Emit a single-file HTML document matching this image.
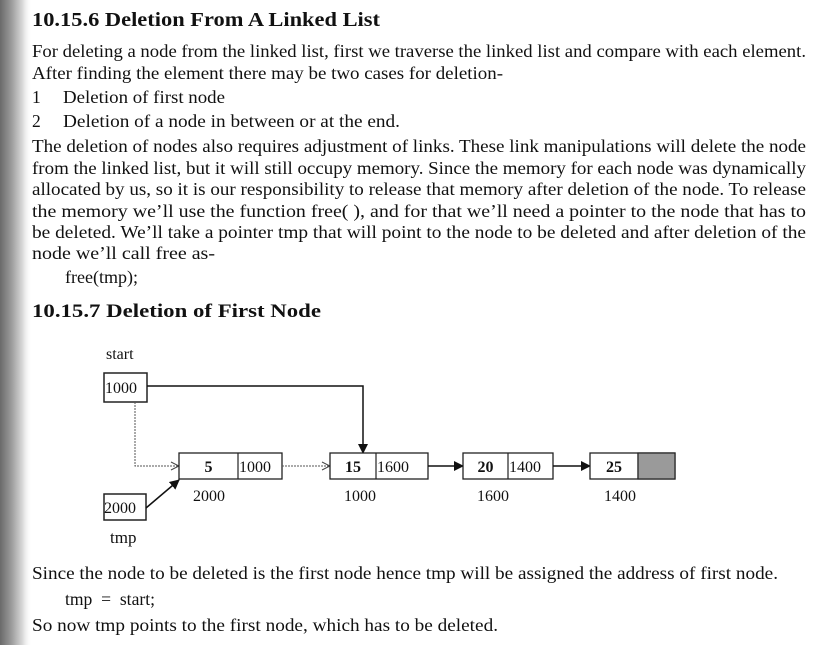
<!DOCTYPE html>
<html><head><meta charset="utf-8"><style>
html,body{margin:0;padding:0;background:#fff;}
svg{display:block;}
text{font-family:"Liberation Serif",serif;fill:#111;}
</style></head><body>
<svg id="pg" width="821" height="645" viewBox="0 0 821 645">
<defs>
<linearGradient id="shadow" x1="0" x2="1" y1="0" y2="0">
<stop offset="0" stop-color="#6a6a6a"/><stop offset="0.35" stop-color="#9a9a9a"/><stop offset="0.7" stop-color="#d8d8d8"/><stop offset="1" stop-color="#fff" stop-opacity="0"/>
</linearGradient>
<marker id="ah" markerWidth="10" markerHeight="10" refX="9" refY="5" orient="auto" markerUnits="userSpaceOnUse"><path d="M0,0 L10,5 L0,10 Z" fill="#111"/></marker>
<marker id="oa" markerWidth="10" markerHeight="10" refX="9" refY="5" orient="auto" markerUnits="userSpaceOnUse"><path d="M1,1 L9,5 L1,9" fill="none" stroke="#444" stroke-width="1"/></marker>
</defs>
<rect x="0" y="0" width="32" height="645" fill="url(#shadow)"/>
<text x="32" y="26" font-size="20" font-weight="bold" textLength="348" lengthAdjust="spacingAndGlyphs">10.15.6 Deletion From A Linked List</text>
<g font-size="17.5">
<text x="32" y="57" textLength="774" lengthAdjust="spacingAndGlyphs">For deleting a node from the linked list, first we traverse the linked list and compare with each element.</text>
<text x="32" y="79" textLength="471" lengthAdjust="spacingAndGlyphs">After finding the element there may be two cases for deletion-</text>
<text x="32" y="103">1</text><text x="63" y="103" textLength="162" lengthAdjust="spacingAndGlyphs">Deletion of first node</text>
<text x="32" y="127">2</text><text x="63" y="127" textLength="337" lengthAdjust="spacingAndGlyphs">Deletion of a node in between or at the end.</text>
<text x="32" y="152" textLength="774" lengthAdjust="spacingAndGlyphs">The deletion of nodes also requires adjustment of links. These link manipulations will delete the node</text>
<text x="32" y="174" textLength="774" lengthAdjust="spacingAndGlyphs">from the linked list, but it will still occupy memory. Since the memory for each node was dynamically</text>
<text x="32" y="195" textLength="774" lengthAdjust="spacingAndGlyphs">allocated by us, so it is our responsibility to release that memory after deletion of the node. To release</text>
<text x="32" y="217" textLength="774" lengthAdjust="spacingAndGlyphs">the memory we’ll use the function free( ), and for that we’ll need a pointer to the node that has to</text>
<text x="32" y="238" textLength="774" lengthAdjust="spacingAndGlyphs">be deleted. We’ll take a pointer tmp that will point to the node to be deleted and after deletion of the</text>
<text x="32" y="259" textLength="183" lengthAdjust="spacingAndGlyphs">node we’ll call free as-</text>
<text x="65" y="283" textLength="73" lengthAdjust="spacingAndGlyphs">free(tmp);</text>
</g>
<text x="32" y="317" font-size="19" font-weight="bold" textLength="289" lengthAdjust="spacingAndGlyphs">10.15.7 Deletion of First Node</text>
<g id="diagram">
<text x="106" y="359" font-size="16">start</text>
<rect x="104" y="373" width="43" height="29" fill="#fff" stroke="#222" stroke-width="1.5"/>
<text x="105" y="393" font-size="16">1000</text>
<rect x="104" y="494" width="42" height="26" fill="#fff" stroke="#222" stroke-width="1.5"/>
<text x="104" y="513" font-size="16">2000</text>
<text x="110" y="543" font-size="17">tmp</text>
<polyline points="147,386 363,386 363,453" fill="none" stroke="#111" stroke-width="1.5" marker-end="url(#ah)"/>
<polyline points="135,402 135,466 179,466" fill="none" stroke="#555" stroke-width="1" stroke-dasharray="2,1" marker-end="url(#oa)"/>
<line x1="146" y1="508" x2="179" y2="480" stroke="#111" stroke-width="1.5" marker-end="url(#ah)"/>
</g>
<g font-size="17.5">
<text x="32" y="579" textLength="746" lengthAdjust="spacingAndGlyphs">Since the node to be deleted is the first node hence tmp will be assigned the address of first node.</text>
<text x="65" y="605" textLength="90" lengthAdjust="spacingAndGlyphs" xml:space="preserve">tmp  =  start;</text>
<text x="32" y="631" textLength="466" lengthAdjust="spacingAndGlyphs">So now tmp points to the first node, which has to be deleted.</text>
</g>
</svg>
<script>
const nodeInfo = ["5","15","20","25"];
const nodeLinks = ["1000","1600","1400",""];
const nodeAddrs = ["2000","1000","1600","1400"];
(function(){
const NS="http://www.w3.org/2000/svg";
const g=document.getElementById('diagram');
const lefts=[179,330,463,590], splits=[238,376,508,638], rights=[282,428,553,675];
const nodeTop=453,h=26;
function mk(tag,attrs){const e=document.createElementNS(NS,tag);for(const k in attrs)e.setAttribute(k,attrs[k]);g.appendChild(e);return e;}
for(let i=0;i<nodeInfo.length;i++){
  const L=lefts[i%4],S=splits[i%4],R=rights[i%4];
  const r=mk('rect',{x:L,y:nodeTop,width:R-L,height:h,fill:'#fff',stroke:'#222','stroke-width':1.3});
  
  
  mk('line',{x1:S,y1:nodeTop,x2:S,y2:nodeTop+h,stroke:'#222','stroke-width':1.2});
  const t=mk('text',{x:(L+S)/2,y:nodeTop+19,'font-size':16,'font-weight':'bold','text-anchor':'middle'});t.textContent=nodeInfo[i];
  
  
  if(nodeLinks[i]){
    const l=mk('text',{x:S+1,y:nodeTop+19,'font-size':16});l.textContent=nodeLinks[i];
    
    
  } else {
    const n=mk('rect',{x:S,y:nodeTop,width:R-S,height:h,fill:'#9a9a9a',stroke:'#222','stroke-width':1.2});
    
    
  }
  const a=mk('text',{x:L+14,y:nodeTop+48,'font-size':16});a.textContent=nodeAddrs[i];
  
  
  if(i<nodeInfo.length-1){
    const dotted=(i===0);
    const ar=mk('line',{x1:R,y1:nodeTop+13,x2:lefts[i+1],y2:nodeTop+13,stroke:dotted?'#555':'#111','stroke-width':dotted?1:1.5,'stroke-dasharray':dotted?'2,1':'none','marker-end':dotted?'url(#oa)':'url(#ah)'});
    
    
  }
}
})();
</script>
</body></html>
